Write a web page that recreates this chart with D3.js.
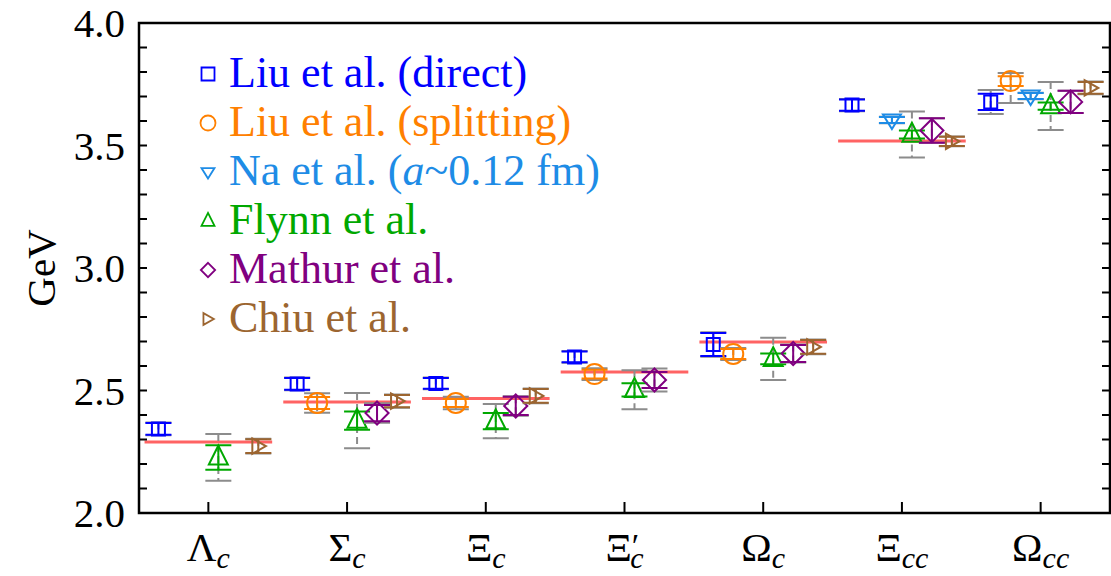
<!DOCTYPE html>
<html>
<head>
<meta charset="utf-8">
<script src="https://cdn.jsdelivr.net/npm/d3@7"></script>
<style>
  body { margin: 0; background: white; }
  text { font-family: "Liberation Serif", "DejaVu Serif", serif; }
</style>
</head>
<body>
<div id="canvas"></div>
<script>
var w = 1111;
var h = 576;

// categories (main glyph, prime?, subscript)
var categories = ["\u039B", "\u03A3", "\u039E", "\u039E", "\u03A9", "\u039E", "\u03A9"];
var primes     = [false, false, false, true, false, false, false];
var subscripts = ["c", "c", "c", "c", "c", "cc", "cc"];

// experimental values (red lines)
var experiment = [2.290, 2.453, 2.467, 2.576, 2.698, 3.518, null];

// lattice results: value, statistical error, total error (low / high)
var liuDirect      = [2.343, 2.527, 2.529, 2.637, 2.688, 3.665, 3.678];
var liuDirectStat  = [0.024, 0.024, 0.022, 0.022, 0.047, 0.023, 0.033];
var liuDirectLo    = [0.026, 0.026, 0.024, 0.024, 0.050, 0.025, 0.049];
var liuDirectHi    = [0.026, 0.026, 0.024, 0.024, 0.050, 0.025, 0.049];

var liuSplit       = [null, 2.449, 2.449, 2.567, 2.649, null, 3.763];
var liuSplitStat   = [null, 0.024, 0.016, 0.018, 0.020, null, 0.020];
var liuSplitLo     = [null, 0.040, 0.026, 0.024, 0.024, null, 0.090];
var liuSplitHi     = [null, 0.040, 0.026, 0.024, 0.024, null, 0.033];

var na             = [null, null, null, null, null, 3.604, 3.702];
var naStat         = [null, null, null, null, null, 0.012, 0.012];
var naLo           = [null, null, null, null, null, 0.013, 0.013];
var naHi           = [null, null, null, null, null, 0.013, 0.013];

var flynn          = [2.227, 2.377, 2.375, 2.503, 2.629, 3.545, 3.661];
var flynnStat      = [0.050, 0.037, 0.033, 0.027, 0.022, 0.016, 0.015];
var flynnLo        = [0.095, 0.113, 0.070, 0.080, 0.086, 0.094, 0.098];
var flynnHi        = [0.095, 0.113, 0.070, 0.080, 0.086, 0.094, 0.098];

var mathur         = [null, 2.408, 2.437, 2.543, 2.651, 3.561, 3.678];
var mathurStat     = [null, 0.033, 0.037, 0.033, 0.035, 0.050, 0.045];
var mathurLo       = [null, 0.040, 0.040, 0.047, 0.037, 0.050, 0.045];
var mathurHi       = [null, 0.040, 0.040, 0.047, 0.037, 0.050, 0.045];

var chiu           = [2.273, 2.457, 2.478, null, 2.678, 3.517, 3.735];
var chiuStat       = [0.028, 0.025, 0.028, null, 0.028, 0.019, 0.024];
var chiuLo         = [0.030, 0.027, 0.030, null, 0.030, 0.020, 0.026];
var chiuHi         = [0.030, 0.027, 0.030, null, 0.030, 0.020, 0.026];

var series = [
  {name: "Liu et al. (direct)",    vals: liuDirect, stat: liuDirectStat, lo: liuDirectLo, hi: liuDirectHi, color: "#0000ff", sym: "square"},
  {name: "Liu et al. (splitting)", vals: liuSplit,  stat: liuSplitStat,  lo: liuSplitLo,  hi: liuSplitHi,  color: "#ff8000", sym: "circle"},
  {name: "Na et al.",              vals: na,        stat: naStat,        lo: naLo,        hi: naHi,        color: "#1e8ce6", sym: "down"},
  {name: "Flynn et al.",           vals: flynn,     stat: flynnStat,     lo: flynnLo,     hi: flynnHi,     color: "#00a800", sym: "up"},
  {name: "Mathur et al.",          vals: mathur,    stat: mathurStat,    lo: mathurLo,    hi: mathurHi,    color: "#800080", sym: "diamond"},
  {name: "Chiu et al.",            vals: chiu,      stat: chiuStat,      lo: chiuLo,      hi: chiuHi,      color: "#9c6530", sym: "right"}
];

var plotL = 139, plotR = 1110, plotT = 23, plotB = 513;

var xScale = d3.scaleLinear()
               .domain([-0.5, 6.5])
               .range([plotL, plotR]);

var yScale = d3.scaleLinear()
               .domain([2, 4])
               .range([plotB, plotT]);

var canvas = d3.select("#canvas")
               .append("svg")
               .attr("width", w)
               .attr("height", h)
               .style("background-color", "white");

// marker shapes
function symbolPath(sym, s) {
  if (sym === "square") return `M${-s*0.5},${-s*0.5}h${s}v${s}h${-s}Z`;
  if (sym === "circle") { var r = s * 0.5; return `M${r},0A${r},${r} 0 1,1 ${-r},0A${r},${r} 0 1,1 ${r},0Z`; }
  if (sym === "up") return `M0,${-s*0.62}L${s*0.5},${s*0.38}L${-s*0.5},${s*0.38}Z`;
  if (sym === "down") return `M0,${s*0.5}L${s*0.5},${-s*0.3}L${-s*0.5},${-s*0.3}Z`;
  if (sym === "diamond") return `M0,${-s*0.55}L${s*0.55},0L0,${s*0.55}L${-s*0.55},0Z`;
  if (sym === "right") return `M${s*0.45},0L${-s*0.35},${-s*0.45}L${-s*0.35},${s*0.45}Z`;
}
var markerSize = {square: 13, circle: 20, down: 18, up: 19, diamond: 21, right: 17};

// red experiment lines
canvas.append("g")
  .selectAll("line")
  .data(experiment.map((v, i) => ({v: v, i: i})).filter(d => d.v !== null))
  .join("line")
  .attr("x1", d => xScale(d.i - 0.46))
  .attr("x2", d => xScale(d.i + 0.46))
  .attr("y1", d => yScale(d.v))
  .attr("y2", d => yScale(d.v))
  .attr("stroke", "#ff6363")
  .attr("stroke-width", 3);

var capHalf = 13;

series.forEach(function(s, k) {
  var off = (k - 2.5) * 0.144;
  var pts = s.vals.map((v, i) => ({v: v, i: i, st: s.stat[i], lo: s.lo[i], hi: s.hi[i]}))
                  .filter(d => d.v !== null);
  var g = canvas.append("g");

  // total (grey) error bars
  g.selectAll(".tot").data(pts).join("path")
    .attr("fill", "none")
    .attr("stroke", "#8c8c8c")
    .attr("stroke-width", 2)
    .attr("stroke-dasharray", "7,4")
    .attr("d", d => `M${xScale(d.i + off)},${yScale(d.v + d.hi)}V${yScale(d.v - d.lo)}`);
  g.selectAll(".totcap").data(pts).join("path")
    .attr("fill", "none")
    .attr("stroke", "#8c8c8c")
    .attr("stroke-width", 2)
    .attr("d", d => {
      var x = xScale(d.i + off);
      return `M${x - capHalf},${yScale(d.v + d.hi)}h${capHalf*2}M${x - capHalf},${yScale(d.v - d.lo)}h${capHalf*2}`;
    });

  // statistical (coloured) error bars
  g.selectAll(".stat").data(pts).join("path")
    .attr("fill", "none")
    .attr("stroke", s.color)
    .attr("stroke-width", 2)
    .attr("d", d => {
      var x = xScale(d.i + off);
      var y1 = yScale(d.v + d.st), y2 = yScale(d.v - d.st);
      return `M${x},${y1}V${y2}M${x - capHalf},${y1}h${capHalf*2}M${x - capHalf},${y2}h${capHalf*2}`;
    });

  // markers
  g.selectAll(".mk").data(pts).join("path")
    .attr("fill", "none")
    .attr("stroke", s.color)
    .attr("stroke-width", 2)
    .attr("d", symbolPath(s.sym, markerSize[s.sym]))
    .attr("transform", d => `translate(${xScale(d.i + off)}, ${yScale(d.v)})`);
});

// axes
var yAxis = d3.axisLeft(yScale).tickValues([2, 2.5, 3, 3.5, 4]).tickFormat(d3.format(".1f")).tickSize(0).tickPadding(14);
var yAxisG = canvas.append("g")
    .attr("transform", `translate(${plotL}, 0)`)
    .call(yAxis);
yAxisG.select(".domain").remove();
yAxisG.selectAll("text")
    .attr("font-size", 41)
    .attr("font-family", "Liberation Serif")
    .attr("fill", "black")
    .attr("dy", "0.34em");

var minor = d3.range(2, 4.001, 0.1);
canvas.append("g").selectAll("line").data(minor).join("line")
  .attr("x1", plotL).attr("x2", plotL + 8)
  .attr("y1", d => yScale(d)).attr("y2", d => yScale(d))
  .attr("stroke", "black").attr("stroke-width", 2);
canvas.append("g").selectAll("line").data(minor).join("line")
  .attr("x1", plotR).attr("x2", plotR - 8)
  .attr("y1", d => yScale(d)).attr("y2", d => yScale(d))
  .attr("stroke", "black").attr("stroke-width", 2);
canvas.append("g").selectAll("line").data(d3.range(categories.length)).join("line")
  .attr("x1", d => xScale(d)).attr("x2", d => xScale(d))
  .attr("y1", plotB).attr("y2", plotB - 11)
  .attr("stroke", "black").attr("stroke-width", 2);

canvas.append("rect")
  .attr("x", plotL).attr("y", plotT)
  .attr("width", plotR - plotL).attr("height", plotB - plotT)
  .attr("fill", "none")
  .attr("stroke", "black")
  .attr("stroke-width", 2.5);

// category labels
var catLabels = canvas.append("g").selectAll("text")
  .data(categories.map((c, i) => ({c: c, i: i})))
  .join("text")
  .attr("x", d => xScale(d.i))
  .attr("y", 561)
  .attr("text-anchor", "middle")
  .attr("font-size", 41);
catLabels.append("tspan").text(d => d.c);
catLabels.each(function(d) {
  var t = d3.select(this);
  if (primes[d.i]) {
    t.append("tspan").attr("font-size", 34).attr("dy", -4).text("\u2032");
    t.append("tspan").attr("font-size", 30).attr("font-style", "italic").attr("dx", -9).attr("dy", 11).text(subscripts[d.i]);
  } else {
    t.append("tspan").attr("font-size", 30).attr("font-style", "italic").attr("dy", 7).text(subscripts[d.i]);
  }
});

// y label
canvas.append("text")
  .attr("text-anchor", "middle")
  .attr("transform", `translate(55, ${(plotT + plotB) / 2}) rotate(-90)`)
  .attr("font-size", 41)
  .text("GeV");

// legend
var legend = canvas.append("g")
  .attr("class", "legend")
  .attr("transform", "translate(208, 87)");

series.forEach(function(s, k) {
  var row = legend.append("g").attr("transform", `translate(0, ${k * 49})`);
  row.append("path")
    .attr("d", symbolPath(s.sym, s.sym === "circle" ? 15 : 13))
    .attr("fill", "none")
    .attr("stroke", s.color)
    .attr("stroke-width", 1.8)
    .attr("transform", "translate(0, -13)");
  var t = row.append("text")
    .attr("x", 21)
    .attr("y", 0)
    .attr("font-size", 44)
    .attr("fill", s.color);
  if (s.sym === "down") {
    t.append("tspan").text("Na et al. (");
    t.append("tspan").attr("font-style", "italic").text("a");
    t.append("tspan").text("~0.12 fm)");
  } else {
    t.text(s.name);
  }
});
</script>
</body>
</html>
